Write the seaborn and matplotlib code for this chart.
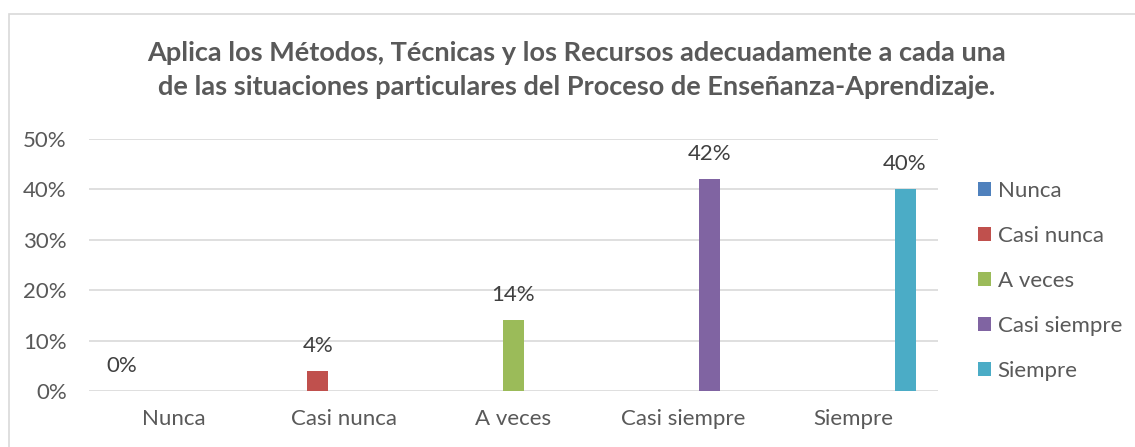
import pandas as pd
import matplotlib.pyplot as plt
import seaborn as sns
from matplotlib.patches import Rectangle, Patch
from matplotlib.ticker import PercentFormatter

# =============================
#  Datos
# =============================
categorias = ["Nunca", "Casi nunca", "A veces", "Casi siempre", "Siempre"]
valores = [0.00, 0.04, 0.14, 0.42, 0.40]
colores = ["#4F81BD", "#C0504D", "#9BBB59", "#8064A2", "#4BACC6"]
titulo = ("Aplica los Métodos, Técnicas y los Recursos adecuadamente a cada una\n"
          "de las situaciones particulares del Proceso de Enseñanza-Aprendizaje.")

df = pd.DataFrame({"categoria": categorias, "valor": valores})

# =============================
#  Estilo
# =============================
sns.set_style("white")
plt.rcParams["font.family"] = ["Lato", "DejaVu Sans"]
gris = "#595959"

fig = plt.figure(figsize=(11.35, 4.47), dpi=100)
ax = fig.add_axes([89 / 1135, 56 / 447, 849 / 1135, 252 / 447])

sns.barplot(data=df, x="categoria", y="valor", hue="categoria",
            order=categorias, hue_order=categorias, palette=colores,
            saturation=1, dodge=True, width=0.765, gap=0.19,
            linewidth=0, legend=False, ax=ax)

# etiquetas de datos
for cont in ax.containers:
    for bar in cont:
        h = bar.get_height()
        ax.annotate(f"{h * 100:.0f}%", (bar.get_x() + bar.get_width() / 2, h),
                    xytext=(0, 25), textcoords="offset pixels",
                    ha="center", va="center", fontsize=16, color="#404040")

ax.set_ylim(0, 0.5)
ax.set_yticks([0, 0.1, 0.2, 0.3, 0.4, 0.5])
ax.yaxis.set_major_formatter(PercentFormatter(1, decimals=0))
ax.set_xlim(-0.5, 4.5)
ax.grid(axis="y", color="#D9D9D9", linewidth=1.2)
ax.set_axisbelow(True)
for s in ax.spines.values():
    s.set_visible(False)
ax.tick_params(axis="both", length=0, labelsize=16, labelcolor=gris)
ax.tick_params(axis="y", pad=16)
ax.tick_params(axis="x", pad=13)
ax.set_xlabel("")
ax.set_ylabel("")

# leyenda
handles = [Patch(facecolor=c, edgecolor="none") for c in colores]
fig.legend(handles, categorias, loc="center left", bbox_to_anchor=(978 / 1135, 166 / 447),
           frameon=False, fontsize=16, labelcolor=gris, handlelength=0.58,
           handleheight=0.58, handletextpad=0.3, labelspacing=1.12,
           borderpad=0, borderaxespad=0)

# titulo
fig.text(0.508, (447 - 70) / 447, titulo, ha="center", va="center",
         fontsize=19.5, fontweight="bold", color=gris, linespacing=1.5)

# borde del area del grafico
fig.patches.append(Rectangle((9 / 1135, -0.05), 1.1, (447 - 14) / 447 + 0.05,
                             transform=fig.transFigure, fill=False,
                             edgecolor="#D9D9D9", linewidth=1.2))

fig.savefig("out.png", dpi=100)
plt.close(fig)
